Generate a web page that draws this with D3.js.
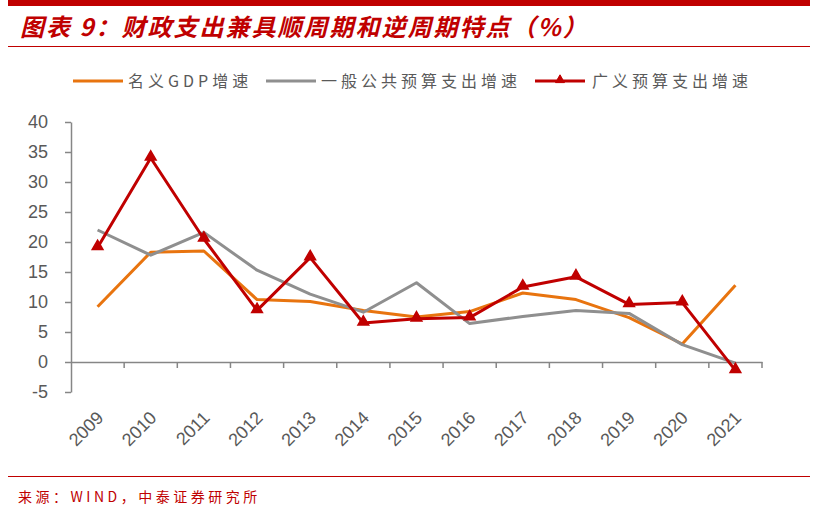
<!DOCTYPE html>
<html>
<head>
<meta charset="utf-8">
<script src="https://cdn.jsdelivr.net/npm/d3@7"></script>
<style>
  body { margin: 0; background: #fff; }
  svg { display: block; }
</style>
</head>
<body>
<div id="chart"></div>
<script>
// data
var years = ["2009", "2010", "2011", "2012", "2013", "2014", "2015", "2016", "2017", "2018", "2019", "2020", "2021"];
var gdpGrowth = [9.2, 18.3, 18.5, 10.4, 10.1, 8.6, 7.5, 8.4, 11.5, 10.4, 7.4, 3.0, 12.8];
var budgetGrowth = [22.0, 17.8, 21.6, 15.3, 11.3, 8.3, 13.2, 6.4, 7.6, 8.6, 8.1, 2.9, -0.2];
var broadGrowth = [19.1, 34.0, 20.5, 8.6, 17.4, 6.5, 7.2, 7.4, 12.5, 14.2, 9.6, 9.9, -1.4];
var yTicks = [-5, 0, 5, 10, 15, 20, 25, 30, 35, 40];
var seriesNames = ["名义GDP增速", "一般公共预算支出增速", "广义预算支出增速"];

var svgWidth = 817;
var svgHeight = 510;
var margin = { top: 122, right: 55, bottom: 118, left: 71 };
var width = 762 - margin.left;
var height = 392 - margin.top;

var red = "#C00000";
var colors = ["#E8740F", "#8F8F8F", "#C00000"];

var svg = d3.select("#chart")
  .append("svg")
  .attr("width", svgWidth)
  .attr("height", svgHeight);

// header / footer decoration
svg.append("rect").attr("x", 8).attr("y", 0).attr("width", 802).attr("height", 6).attr("fill", red);
svg.append("line").attr("x1", 8).attr("x2", 810).attr("y1", 46.5).attr("y2", 46.5)
  .attr("stroke", red).attr("stroke-width", 1.2);
svg.append("line").attr("x1", 8).attr("x2", 810).attr("y1", 476.5).attr("y2", 476.5)
  .attr("stroke", red).attr("stroke-width", 1.2);

svg.append("text")
  .attr("x", 20).attr("y", 36)
  .attr("fill", red)
  .style("font-family", "'Noto Sans CJK SC', sans-serif")
  .style("font-size", "24px")
  .style("letter-spacing", "2px")
  .style("font-weight", "bold")
  .style("font-style", "italic")
  .text("图表 9：财政支出兼具顺周期和逆周期特点（%）");

svg.append("text")
  .attr("x", 18).attr("y", 502)
  .attr("fill", red)
  .style("font-family", "'Noto Sans CJK SC', sans-serif")
  .style("font-size", "14px")
  .style("letter-spacing", "3.5px")
  .text("来源：WIND，中泰证券研究所");

var chartGroup = svg.append("g")
  .attr("transform", `translate(${margin.left}, ${margin.top})`);

var xScale = d3.scaleBand().domain(years).range([0, width]);
var yScale = d3.scaleLinear().domain([-5, 40]).range([height, 0]);
var xPos = d => xScale(d) + xScale.bandwidth() / 2;

var axisColor = "#868686";
var labelColor = "#595959";

// y axis
var leftAxis = d3.axisLeft(yScale).tickValues(yTicks).tickSize(6).tickSizeOuter(0)
  .tickFormat(d => String(d));
var yAxisG = chartGroup.append("g").call(leftAxis);
yAxisG.select(".domain").attr("stroke", axisColor).attr("stroke-width", 1.5);
yAxisG.selectAll(".tick line").attr("stroke", axisColor).attr("stroke-width", 1.5);
yAxisG.selectAll(".tick text")
  .attr("x", -23)
  .attr("fill", labelColor)
  .style("font-family", "Arial, 'Liberation Sans', sans-serif")
  .style("font-size", "18px");

// x axis at zero
var bottomAxis = d3.axisBottom(xScale).tickSize(0).tickSizeOuter(0).tickFormat("");
var xAxisG = chartGroup.append("g")
  .attr("transform", `translate(0, ${yScale(0)})`)
  .call(bottomAxis);
xAxisG.select(".domain").attr("stroke", axisColor).attr("stroke-width", 1.5);

// boundary ticks under the zero line
var boundaries = years.map(d => xScale(d)).concat([width]);
xAxisG.selectAll(".btick")
  .data(boundaries.slice(1))
  .join("line")
  .attr("x1", d => d).attr("x2", d => d)
  .attr("y1", 0).attr("y2", 6)
  .attr("stroke", axisColor).attr("stroke-width", 1.5);

// rotated year labels
chartGroup.append("g")
  .selectAll("text")
  .data(years)
  .join("text")
  .attr("transform", d => `translate(${xPos(d) - 2}, ${height + 18}) rotate(-45)`)
  .attr("text-anchor", "end")
  .attr("dy", "0.7em")
  .attr("fill", labelColor)
  .style("font-family", "Arial, 'Liberation Sans', sans-serif")
  .style("font-size", "18px")
  .text(d => d);

// lines
var allSeries = [gdpGrowth, budgetGrowth, broadGrowth];
var line = d3.line()
  .x((d, i) => xPos(years[i]))
  .y(d => yScale(d));

chartGroup.selectAll(".series")
  .data(allSeries)
  .join("path")
  .attr("fill", "none")
  .attr("stroke", (d, i) => colors[i])
  .attr("stroke-width", 3)
  .attr("stroke-linejoin", "round")
  .attr("d", line);

var tri = d3.symbol().type(d3.symbolTriangle).size(50);
chartGroup.selectAll(".marker")
  .data(broadGrowth)
  .join("path")
  .attr("transform", (d, i) => `translate(${xPos(years[i])}, ${yScale(d) - 1})`)
  .attr("d", tri)
  .attr("fill", red)
  .attr("stroke", red)
  .attr("stroke-width", 1.5);

// legend
var legendItems = [
  { x: 73, tx: 128 },
  { x: 266, tx: 321 },
  { x: 535, tx: 592 }
];
var legend = svg.append("g").attr("transform", "translate(0, 81)");
legendItems.forEach(function(item, i) {
  legend.append("line")
    .attr("x1", item.x).attr("x2", item.x + 50)
    .attr("y1", 0).attr("y2", 0)
    .attr("stroke", colors[i]).attr("stroke-width", 3);
  if (i === 2) {
    legend.append("path")
      .attr("transform", `translate(${item.x + 25}, -1)`)
      .attr("d", d3.symbol().type(d3.symbolTriangle).size(35))
      .attr("fill", red).attr("stroke", red).attr("stroke-width", 1);
  }
  legend.append("text")
    .attr("x", item.tx).attr("y", 0)
    .attr("dy", "0.35em")
    .attr("fill", labelColor)
    .style("font-family", "'Noto Sans CJK SC', sans-serif")
    .style("font-size", "16px")
    .style("letter-spacing", "4px")
    .text(seriesNames[i]);
});
</script>
</body>
</html>
